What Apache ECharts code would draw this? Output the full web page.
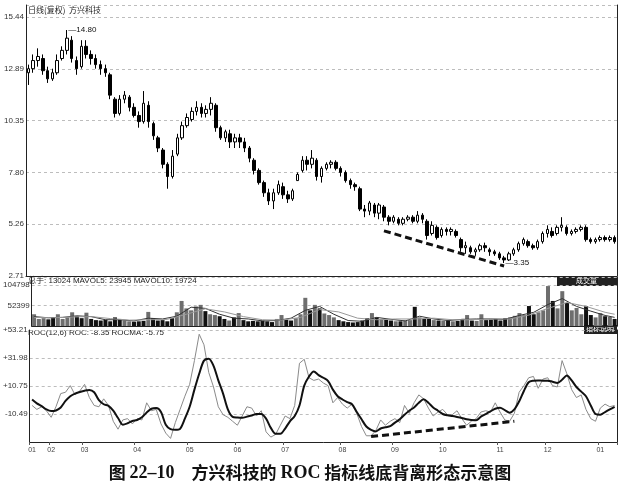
<!DOCTYPE html>
<html><head><meta charset="utf-8">
<script src="https://cdn.jsdelivr.net/npm/echarts/dist/echarts.min.js"></script>
<style>html,body{margin:0;padding:0;background:#fff}#c{width:620px;height:488px}</style>
</head><body><div id="c"></div>
<script>
// ---- data ----
const opens = [
12.7,12.9,13.3,13.4,12.8,12.4,12.7,13.4,13.8,14.3,
13.3,13.0,14.0,13.6,13.4,13.1,12.9,12.6,11.4,10.7,
11.4,11.5,11.0,10.6,10.3,11.1,10.2,9.5,8.9,8.2,
7.6,8.7,9.5,10.1,10.4,10.8,11.0,10.7,10.9,11.1,
10.0,9.5,9.7,9.3,9.5,9.3,9.0,8.4,7.9,7.3,
6.8,6.4,6.8,7.1,6.7,6.5,7.4,7.9,8.4,8.2,
8.4,7.6,8.0,8.2,8.3,8.0,7.8,7.4,7.2,7.0,
6.0,5.9,6.2,5.8,6.1,5.6,5.4,5.5,5.3,5.5,
5.6,5.4,5.7,5.4,4.8,5.1,4.7,5.0,4.9,4.9,
4.5,4.1,4.1,3.9,4.0,4.2,4.0,3.9,3.8,3.6,
3.5,3.8,4.0,4.3,4.4,4.2,4.1,4.4,4.8,4.9,
4.8,5.1,5.1,4.8,4.9,5.0,5.1,4.5,4.4,4.5,
4.6,4.5,4.6];
const closes = [
12.9,13.3,13.5,12.8,12.4,12.7,13.3,13.8,14.4,13.4,
12.9,14.0,13.6,13.4,13.1,12.9,12.7,11.6,10.7,11.4,
11.6,11.0,10.6,10.3,11.2,10.3,9.6,9.0,8.2,7.6,
8.6,9.5,10.1,10.5,10.8,11.0,10.7,10.9,11.2,10.0,
9.5,9.8,9.3,9.5,9.3,9.0,8.5,7.9,7.3,6.8,
6.4,6.8,7.2,6.7,6.5,6.9,7.7,8.4,8.2,8.5,
7.6,8.0,8.2,8.3,8.0,7.8,7.4,7.2,7.1,6.0,
5.9,6.3,5.8,6.2,5.6,5.4,5.6,5.3,5.5,5.6,
5.4,5.7,5.5,4.7,5.2,4.6,5.0,4.9,5.0,4.7,
4.1,4.2,3.9,4.0,4.2,4.1,3.9,3.8,3.6,3.5,
3.8,4.0,4.3,4.5,4.2,4.1,4.4,4.8,5.0,4.7,
5.1,5.2,4.8,4.9,5.0,5.1,4.5,4.4,4.5,4.6,
4.5,4.6,4.4];
const lows = [
12.1,12.7,13.0,12.6,12.2,12.3,12.6,13.3,13.6,13.2,
12.6,12.9,13.4,13.1,12.9,12.6,12.5,11.4,10.5,10.6,
11.2,10.8,10.5,10.0,10.2,10.0,9.4,8.8,8.0,7.0,
7.5,8.6,9.4,10.0,10.3,10.6,10.5,10.5,10.6,9.8,
9.4,9.3,9.0,9.0,9.0,8.8,8.3,7.7,7.2,6.6,
6.2,6.0,6.7,6.5,6.3,6.4,7.4,7.8,7.9,8.0,
7.4,7.3,7.9,8.0,7.9,7.6,7.3,7.0,6.9,5.9,
5.6,5.7,5.6,5.5,5.4,5.2,5.3,5.2,5.2,5.4,
5.3,5.3,5.3,4.5,4.7,4.5,4.6,4.7,4.7,4.6,
3.9,3.8,3.8,3.7,3.9,3.9,3.7,3.7,3.5,3.35,
3.45,3.7,3.9,4.2,4.1,4.0,4.0,4.3,4.6,4.6,
4.7,4.9,4.7,4.7,4.8,4.9,4.4,4.3,4.3,4.4,
4.4,4.4,4.3];
const highs = [
13.1,13.6,13.9,13.6,13.0,12.9,13.6,14.0,14.8,14.5,
13.5,14.3,14.3,13.8,13.6,13.3,13.1,12.7,11.5,11.6,
11.8,11.6,11.2,10.8,11.8,11.3,10.3,9.6,9.0,8.3,
8.9,9.7,10.3,10.7,11.0,11.3,11.2,11.1,11.5,11.2,
10.1,9.9,9.9,9.7,9.7,9.5,9.1,8.5,8.0,7.4,
7.0,7.0,7.4,7.3,6.9,7.0,7.8,8.6,8.6,8.9,
8.5,8.1,8.3,8.4,8.4,8.1,7.9,7.5,7.3,7.1,
6.2,6.4,6.3,6.3,6.2,5.7,5.7,5.6,5.6,5.7,
5.7,5.9,5.8,5.5,5.4,5.2,5.1,5.1,5.1,5.0,
4.6,4.4,4.2,4.1,4.3,4.35,4.1,4.0,3.9,3.7,
3.9,4.1,4.4,4.6,4.5,4.3,4.5,4.9,5.2,5.1,
5.2,5.6,5.2,5.0,5.1,5.2,5.2,4.6,4.6,4.7,
4.7,4.7,4.7];
const volumes = [
30000,18000,20000,17000,22000,30000,18000,22000,35000,25000,
20000,34000,18000,15000,14000,16000,12000,22000,18000,14000,
12000,11000,12000,13000,36000,20000,14000,15000,12000,20000,
35000,64000,45000,40000,50000,54000,38000,30000,28000,25000,
18000,14000,22000,33000,15000,12000,13000,12000,14000,12000,
10000,18000,28000,16000,14000,20000,30000,72000,40000,54000,
45000,32000,28000,22000,15000,12000,10000,9000,10000,14000,
20000,33000,22000,18000,16000,14000,12000,12000,14000,15000,
49000,22000,18000,20000,15000,14000,13000,14000,12000,13000,
18000,28000,14000,13000,30000,15000,16000,18000,14000,20000,
22000,26000,33000,28000,51000,30000,35000,40000,102000,64000,
45000,89000,59000,40000,46000,30000,51000,28000,22000,33000,
25000,23000,18000];
const mavol5 = [[0,24000],[3,21000],[6,22000],[9,26000],[12,24000],[15,16000],[18,16000],[21,13000],[24,20000],[27,18000],[30,25000],[33,48000],[36,45000],[39,30000],[42,20000],[45,18000],[48,13000],[51,14000],[54,20000],[57,40000],[60,50000],[63,30000],[66,14000],[69,12000],[72,22000],[75,17000],[78,13000],[81,25000],[84,18000],[87,14000],[90,17000],[93,18000],[96,18000],[99,17000],[102,27000],[105,35000],[108,55000],[111,70000],[114,50000],[117,38000],[120,27000],[122,22000]];
const mavol10 = [[0,22000],[4,21000],[8,23000],[12,24000],[16,19000],[20,15000],[24,16000],[28,17000],[32,30000],[36,44000],[40,36000],[44,24000],[48,16000],[52,15000],[56,22000],[60,42000],[64,36000],[68,20000],[72,16000],[76,18000],[80,18000],[84,20000],[88,16000],[92,16000],[96,18000],[100,18000],[104,28000],[108,45000],[112,60000],[116,50000],[120,35000],[122,30000]];
const roc = [
-4,-7,-5,-8,-13,-5,5,6,11,4,
7,12,2,-4,-5,1,-4,-16,-22,-15,
-14,-18,-14,-15,-2,-8,-7,-18,-25,-29,
-17,-7,3,12,30,50,42,21,10,-5,
-11,-13,-16,-19,-12,-5,-6,-12,-8,-24,
-28,-26,-19,-12,-14,-4,28,31,17,15,
16,13,11,-2,2,-3,-6,-3,-10,-20,
-27,-27,-23,-15,-19,-16,-14,-17,-4,-10,
-2,4,1,-6,-12,-9,-7,-11,-11,-8,
-14,-19,-16,-14,-9,-8,-9,-2,-9,-15,
-16,-10,6,11,17,18,9,16,17,11,
10,30,20,8,2,4,-7,-14,-16,-6,
-3,-5,-4];
const rocma = [
0.5,-2.4,-4.5,-7,-8.3,-7.8,-5.5,-0.6,3,5,
6.2,7.2,7.8,6,0,-3.1,-4.3,-8,-13.5,-18.6,
-17.5,-15.8,-15,-13,-9.3,-6.5,-6,-9,-18.6,-22,
-22.5,-21.7,-14,-5,8,20,30,31.5,26,15,
5,-7,-12.7,-13.2,-13.4,-12.5,-11.6,-10.5,-10.5,-14,
-21,-25.5,-25.5,-21.5,-16,-12,-4,11,18,21.8,
19,17,14.5,8,3,0.5,-1.5,-3.1,-9,-14.5,
-20,-22.5,-23.7,-21.5,-20.5,-19.7,-17,-14.5,-11,-8,
-5.5,-2,0.7,-2,-5.5,-8,-10.5,-11.5,-12,-12.7,
-13.5,-14.5,-15,-15.3,-12.5,-10.5,-8.5,-6.5,-5.7,-7.5,
-9.5,-7,-1,7,13.6,14.8,15,14.8,14.8,14,
13.1,15.5,18.7,15,10,6.5,3,-4,-10.5,-11,
-9,-7,-5];
const priceTrend = [[74, 4.93], [99, 3.2]];
const rocTrend = [[71, -27.6], [101, -16.0]];
const monthIdx = [0,4,11,22,33,43,53,65,76,86,98,108,119];
const monthLabels = ['01','02','03','04','05','06','07','08','09','10','11','12','01'];
const priceTicks = ['2.71','5.26','7.80','10.35','12.89','15.44'];
const volTicks = ['','52399','104798'];
const rocTicks = ['','-10.49','+10.75','+31.98','+53.21'];
const categories = opens.map((_, i) => 'd' + i);

// ---- chart ----
const chart = echarts.init(document.getElementById('c'), null, {renderer: 'canvas'});
const candleData = opens.map((o, i) => [o, closes[i], lows[i], highs[i]]);
let peakIdx = 0, lowIdx = 0;
highs.forEach((h, i) => { if (h > highs[peakIdx]) peakIdx = i; });
lows.forEach((l, i) => { if (l < lows[lowIdx]) lowIdx = i; });
const volData = volumes.map((v, i) => ({
  value: v,
  itemStyle: {color: closes[i] >= opens[i] ? '#6e6e6e' : '#111111'}
}));
const FONT = 'Liberation Sans';
const lblStyle = {fontSize: 8, color: '#333', fontFamily: FONT, margin: 2};
const splitStyle = {show: true, lineStyle: {color: '#bdbdbd', type: [3, 3], width: 1}};
const axisLineStyle = {show: true, onZero: false, lineStyle: {color: '#222', width: 1}};
const grids = [
  {left: 26, right: 3, top: 5, height: 271},
  {left: 26, right: 3, top: 277, height: 49},
  {left: 26, right: 3, top: 330, height: 112}
];
function xA(g, showLabels) {
  return {
    type: 'category', gridIndex: g, data: categories, boundaryGap: true,
    axisLine: axisLineStyle,
    axisTick: showLabels ? {show: true, interval: (i) => monthIdx.includes(i), length: 3, lineStyle: {color: '#555'}} : {show: false},
    axisLabel: showLabels ? {
      show: true, fontSize: 7, color: '#444', fontFamily: FONT, margin: 5,
      interval: (i) => monthIdx.includes(i),
      formatter: (v, i) => { const k = monthIdx.indexOf(i); return k >= 0 ? monthLabels[k] : ''; }
    } : {show: false},
    splitLine: {show: false}
  };
}
function yLeft(g, min, max, interval, ticks, showMin) {
  return {
    type: 'value', gridIndex: g, min: min, max: max, interval: interval, position: 'left',
    axisLine: axisLineStyle, axisTick: {show: false},
    axisLabel: Object.assign({}, lblStyle, {showMinLabel: showMin, showMaxLabel: true, formatter: (v, i) => ticks[i] || ''}),
    splitLine: splitStyle
  };
}
function yRight(g, min, max) {
  return {
    type: 'value', gridIndex: g, min: min, max: max, position: 'right',
    axisLine: axisLineStyle, axisTick: {show: false}, axisLabel: {show: false}, splitLine: {show: false}
  };
}
const option = {
  animation: false,
  backgroundColor: '#fff',
  grid: grids,
  title: {
    left: 'center', top: 459,
    text: '{c|图 }{n|22–10}{c|　方兴科技的 }{n|ROC}{c| 指标线底背离形态示意图}',
    textStyle: {
      rich: {
        c: {fontFamily: 'Noto Sans CJK SC', fontWeight: 'bold', fontSize: 17, color: '#111'},
        n: {fontFamily: 'Liberation Serif', fontWeight: 'bold', fontSize: 18, color: '#111'}
      }
    }
  },
  xAxis: [xA(0, false), xA(1, false), xA(2, true)],
  yAxis: [
    yLeft(0, 2.71, 16.03, 2.546, priceTicks, true), yRight(0, 2.71, 16.03),
    yLeft(1, 0, 125200, 52399, volTicks, false), yRight(1, 0, 125200),
    yLeft(2, -31.72, 53.21, 21.2325, rocTicks, false), yRight(2, -31.72, 53.21)
  ],
  graphic: [
    {type: 'text', left: 28, top: 6, style: {text: '日线(复权)  方兴科技', font: '8px "Noto Sans CJK SC"', fill: '#222'}},
    {type: 'text', left: 28, top: 277, style: {text: '总手: 13024 MAVOL5: 23945 MAVOL10: 19724', font: '8px "Liberation Sans", "Noto Sans CJK SC"', fill: '#222'}},
    {type: 'rect', left: 557, top: 277, shape: {width: 60, height: 9}, style: {fill: '#222'}},
    {type: 'text', left: 576, top: 277, style: {text: '成交量', font: '7px "Noto Sans CJK SC"', fill: '#fff'}},
    {type: 'text', left: 28, top: 329, style: {text: 'ROC(12,6) ROC: -8.35 ROCMA: -5.75', font: '8px "Liberation Sans"', fill: '#222'}},
    {type: 'rect', left: 584, top: 325, shape: {width: 33, height: 9}, style: {fill: '#222'}},
    {type: 'text', left: 586, top: 325, style: {text: '指标说明', font: '7px "Noto Sans CJK SC"', fill: '#fff'}}
  ],
  series: [
    {
      type: 'candlestick', xAxisIndex: 0, yAxisIndex: 0, data: candleData, barWidth: 3,
      itemStyle: {color: '#ffffff', color0: '#000000', borderColor: '#000000', borderColor0: '#000000', borderWidth: 1},
      markPoint: {
        symbol: 'circle', symbolSize: 1, itemStyle: {color: 'rgba(0,0,0,0)'},
        label: {show: true, position: 'right', distance: 1, fontSize: 8, color: '#111', fontFamily: FONT,
          formatter: (p) => '—' + p.value.toFixed(2)},
        data: [
          {coord: [peakIdx, highs[peakIdx]], value: highs[peakIdx]},
          {coord: [lowIdx, lows[lowIdx]], value: lows[lowIdx]}
        ]
      },
      markLine: {
        silent: true, symbol: ['none', 'none'], label: {show: false},
        lineStyle: {color: '#111', width: 3, type: [7, 4]},
        data: [[{coord: priceTrend[0]}, {coord: priceTrend[1]}]]
      }
    },
    {type: 'bar', xAxisIndex: 1, yAxisIndex: 2, data: volData, barWidth: 4},
    {type: 'line', xAxisIndex: 1, yAxisIndex: 2, data: mavol5, symbol: 'none', lineStyle: {color: '#333', width: 1}},
    {type: 'line', xAxisIndex: 1, yAxisIndex: 2, data: mavol10, symbol: 'none', lineStyle: {color: '#999', width: 1}},
    {type: 'line', xAxisIndex: 2, yAxisIndex: 4, data: roc, symbol: 'none', lineStyle: {color: '#8a8a8a', width: 1}},
    {
      type: 'line', xAxisIndex: 2, yAxisIndex: 4, data: rocma, symbol: 'none', smooth: 0.3,
      lineStyle: {color: '#111', width: 2},
      markLine: {
        silent: true, symbol: ['none', 'none'], label: {show: false},
        lineStyle: {color: '#111', width: 3, type: [7, 4]},
        data: [[{coord: rocTrend[0]}, {coord: rocTrend[1]}]]
      }
    }
  ]
};
chart.setOption(option);
</script>
</body></html>
